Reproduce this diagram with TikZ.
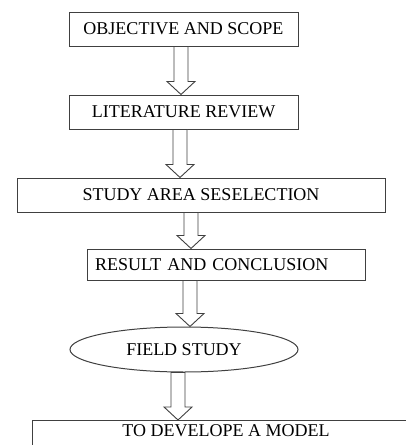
\documentclass[tikz,border=0pt]{standalone}
\usepackage{fontspec}
\setmainfont{Liberation Serif}
\usetikzlibrary{calc,shapes.geometric}
\tikzset{
  stepbox/.style={draw=black!75, line width=1pt, inner sep=0pt, minimum height=34pt,
    font=\fontsize{18}{20}\selectfont},
  hollow/.style={draw=black!75, line width=0.9pt, fill=white, line join=miter},
}
% hollow block arrow at x (in pt) from one node down to the next
\newcommand\blockarrow[3]{%
  \draw[hollow] let \p1=(#2.south), \p2=(#3.north) in
    ({#1pt-7pt},\y1) -- ({#1pt+7pt},\y1) -- ({#1pt+7pt},\y2+13pt) -- ({#1pt+14pt},\y2+13pt)
    -- (#1pt,\y2) -- ({#1pt-14pt},\y2+13pt) -- ({#1pt-7pt},\y2+13pt) -- cycle;}

\begin{document}
\begin{tikzpicture}[x=1pt, y=-1pt]
		%%%%% START %%%%%
		\useasboundingbox (0, 0) rectangle (406, 445);
		\clip (0, 0) rectangle (406, 445);
		
		\node[stepbox, minimum width=229pt] (obj) at (183.5, 29) {OBJECTIVE AND SCOPE};
		\node[stepbox, minimum width=229pt] (lit) at (183.5, 112) {LITERATURE REVIEW};
		\node[stepbox, minimum width=368pt] (area) at (201, 195) {STUDY AREA SESELECTION};
		\node[stepbox, minimum height=31pt, text width=262pt, align=left, inner xsep=8pt] (res) at (226, 264.5) {RESULT AND CONCLUSION};
		\node[stepbox, ellipse, minimum width=228pt, minimum height=45pt] (field) at (184, 349.5) {FIELD STUDY};
		\node[stepbox, anchor=north, minimum width=388pt, minimum height=0pt, inner ysep=4pt, text depth=20pt] (model) at (226, 420) {TO DEVELOPE A MODEL};
		
		\blockarrow{181}{obj}{lit}
		\blockarrow{180}{lit}{area}
		\blockarrow{191}{area}{res}
		\blockarrow{190}{res}{field}
		\blockarrow{178}{field}{model}
		
		%%%%% END %%%%%
\end{tikzpicture}
\end{document}
